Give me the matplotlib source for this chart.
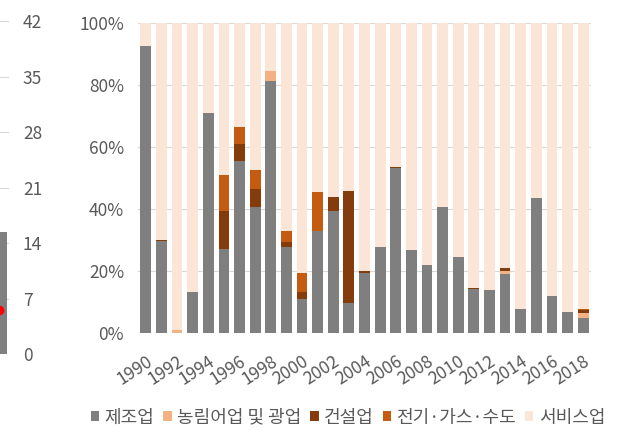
import numpy as np
import matplotlib
matplotlib.use('Agg')
import matplotlib.pyplot as plt
from matplotlib.patches import Patch
from matplotlib.ticker import PercentFormatter

plt.rcParams['font.family'] = ['Noto Sans CJK KR', 'DejaVu Sans']

# 연도별 산업 비중 (%)
years = list(range(1990, 2019))
manufacturing = [92.6, 29.5, 0.0, 13.2, 70.7, 27.0, 55.4, 40.6, 81.2, 27.6,
                 10.7, 32.8, 39.2, 9.6, 19.3, 27.5, 53.0, 26.6, 21.8, 40.6,
                 24.5, 13.9, 13.7, 18.9, 7.6, 43.3, 11.8, 6.5, 4.6]
agri_mining = [0, 0, 0.8, 0, 0, 0, 0, 0, 3.2, 0,
               0, 0, 0, 0, 0, 0, 0, 0, 0, 0,
               0, 0, 0, 0.8, 0, 0, 0, 0, 1.6]
construction = [0, 0.4, 0, 0, 0, 12.2, 5.4, 5.6, 0, 1.7,
                2.5, 0, 4.5, 36.1, 0.4, 0, 0.5, 0, 0, 0,
                0, 0.5, 0, 1.1, 0, 0, 0, 0, 1.0]
utilities = [0, 0, 0, 0, 0, 11.8, 5.4, 6.3, 0, 3.5,
             6.1, 12.4, 0, 0, 0, 0, 0, 0, 0, 0,
             0, 0, 0, 0, 0, 0, 0, 0, 0.3]
services = [7.4, 70.1, 99.2, 86.8, 29.3, 49.0, 33.8, 47.5, 15.6, 67.2,
            80.7, 54.8, 56.3, 54.3, 80.3, 72.5, 46.5, 73.4, 78.2, 59.4,
            75.5, 85.6, 86.3, 79.2, 92.4, 56.7, 88.2, 93.5, 92.5]

labels = ['제조업', '농림어업 및 광업', '건설업', '전기·가스·수도', '서비스업']
colors = ['#7f7f7f', '#f4b183', '#843c0c', '#c55a11', '#fbe5d6']

# 왼쪽 차트의 일부 (오른쪽 축만 보이는 부분)
side_bar = [15.4]
side_point = [5.5]
side_ticks = [0, 7, 14, 21, 28, 35, 42]

W, H = 625, 434
fig = plt.figure(figsize=(W / 100, H / 100), dpi=100)

axl = fig.add_axes([-11 / W, (H - 354) / H, 20 / W, 333 / H])
axl.bar([0], side_bar, width=0.8, color='#808080', zorder=2)
axl.plot([0], side_point, 'o', color='red', markersize=6, zorder=3)
axl.set_xlim(-0.5, 0.5)
axl.set_ylim(0, 42)
axl.set_yticks(side_ticks)
axl.yaxis.tick_right()
axl.tick_params(axis='y', length=0, pad=10, labelsize=12.5, colors='#595959')
axl.set_xticks([])
axl.grid(axis='y', color='#d9d9d9', linewidth=0.8, zorder=0)
for s in axl.spines.values():
    s.set_visible(False)

ax = fig.add_axes([138 / W, (H - 332.5) / H, 453 / W, 309.8 / H])
x = np.arange(len(years))
bottom = np.zeros(len(years))
for vals, c in zip([manufacturing, agri_mining, construction, utilities, services], colors):
    ax.bar(x, vals, bottom=bottom, width=0.69, color=c, zorder=2)
    bottom += np.array(vals)

ax.set_xlim(-0.5, len(years) - 0.5)
ax.set_ylim(0, 100)
ax.set_yticks(np.arange(0, 101, 20))
ax.yaxis.set_major_formatter(PercentFormatter(decimals=0))
ax.tick_params(axis='y', length=0, pad=10, labelsize=12.5, colors='#595959')
ax.set_xticks(x[::2])
ax.set_xticklabels([str(y) for y in years[::2]], rotation=33, ha='right',
                   rotation_mode='anchor')
ax.tick_params(axis='x', length=0, pad=14, labelsize=12.5, colors='#595959')
ax.grid(axis='y', color='#d9d9d9', linewidth=0.8, zorder=0)
for s in ax.spines.values():
    s.set_visible(False)

handles = [Patch(facecolor=c, label=l) for c, l in zip(colors, labels)]
fig.legend(handles=handles, loc='center', bbox_to_anchor=(0.557, 0.038), ncol=5,
           frameon=False, fontsize=13, handlelength=0.45, handleheight=0.45,
           handletextpad=0.3, columnspacing=0.5, labelcolor='#595959')

fig.savefig('out.png', dpi=100)
